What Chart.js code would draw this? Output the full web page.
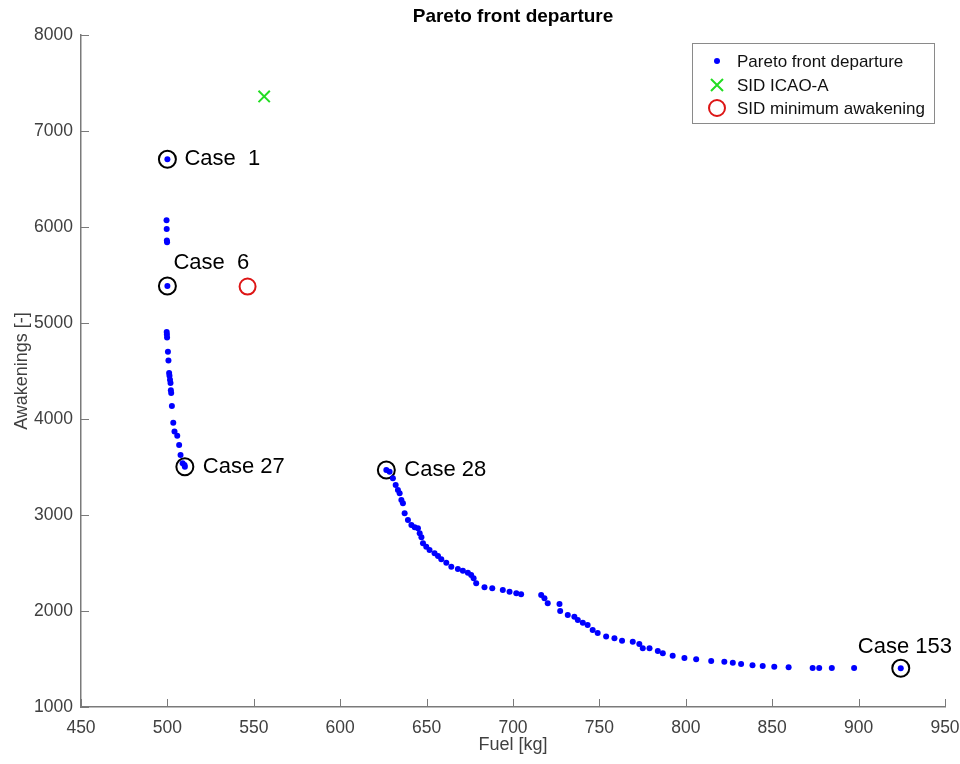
<!DOCTYPE html>
<html>
<head>
<meta charset="utf-8">
<script src="https://cdn.jsdelivr.net/npm/chart.js@4"></script>
<style>
  html, body { margin: 0; padding: 0; background: #fff; }
  #wrap { width: 960px; height: 764px; }
</style>
</head>
<body>
<div id="wrap"><canvas id="chart"></canvas></div>
<script>
// Pareto front values
const fuel = [
  500, 499.5, 499.6, 499.7, 499.8, 500, 499.6, 499.7, 499.8, 500.3, 500.6, 501, 501.2,
  501.5, 501.8, 502, 502.2, 502.6, 503.4, 504.1, 505.7, 506.8, 507.6, 508.8, 509.9, 510.1,
  626.7, 628.6, 630.5, 632.1, 633.4, 634.4, 635.4, 636.3, 637.3, 639.2, 641.2, 643.1,
  645, 646, 647, 647.9, 649.8, 651.7, 654.6, 656.6, 658.5, 661.4, 664.3, 668.1, 671,
  673.9, 675.8, 677.2, 678.7, 683.5, 688, 694.1, 698, 701.9, 704.7, 716.3, 718.2, 720.1,
  726.9, 727.3, 731.7, 735.5, 737.5, 740.4, 743.2, 746.1, 749, 753.9, 758.7, 763.1,
  769.3, 773.1, 775.1, 779, 783.8, 786.7, 792.4, 799.2, 806, 814.7, 822.3, 827.2, 832,
  838.6, 844.5, 851.2, 859.5, 873.4, 877.2, 884.5, 897.4, 924.4,
];
const awakenings = [
  6705, 6070, 5980, 5860, 5840, 5385, 4905, 4880, 4850, 4700, 4610, 4480, 4450,
  4410, 4375, 4300, 4270, 4135, 3960, 3870, 3825, 3730, 3625, 3540, 3521, 3503,
  3469, 3451, 3382, 3312, 3260, 3226, 3156, 3122, 3017, 2948, 2896, 2872,
  2861, 2809, 2767, 2705, 2670, 2635, 2601, 2573, 2538, 2503, 2461, 2437, 2419,
  2398, 2375, 2340, 2288, 2247, 2236, 2219, 2201, 2185, 2174, 2167, 2132, 2080,
  2073, 2000, 1958, 1941, 1906, 1878, 1854, 1802, 1770, 1735, 1715, 1691,
  1680, 1656, 1611, 1611, 1583, 1559, 1535, 1510, 1497, 1479, 1472, 1462, 1448,
  1434, 1427, 1420, 1413, 1406, 1406, 1406, 1406, 1403,
];

const icaoFuel = [556];
const icaoAwake = [7360];

const minAwakeFuel = [546.4];
const minAwakeAwake = [5380];

const caseNames = ["Case  1", "Case  6", "Case 27", "Case 28", "Case 153"];
const caseFuel = [500, 500, 510.1, 626.7, 924.4];
const caseAwake = [6705, 5385, 3503, 3469, 1403];

const xTicks = [450, 500, 550, 600, 650, 700, 750, 800, 850, 900, 950];
const yTicks = [1000, 2000, 3000, 4000, 5000, 6000, 7000, 8000];

const titleText = "Pareto front departure";

function pts(xs, ys) {
  return xs.map((x, i) => ({ x: x, y: ys[i] }));
}

const FONT = "Arial, 'Liberation Sans', sans-serif";
const AXIS = "#7a7a7a";

// label offsets (px) from each case marker
const labelOffset = [[17, 0], [6, -23], [18, 0], [18, 0], [-43, -21]];

const inwardTicks = {
  id: "inwardTicks",
  afterDraw(chart) {
    const { ctx, chartArea: a, scales } = chart;
    ctx.save();
    ctx.strokeStyle = AXIS;
    ctx.lineWidth = 1;
    xTicks.forEach((v) => {
      const px = Math.round(scales.x.getPixelForValue(v)) + 0.5;
      ctx.beginPath();
      ctx.moveTo(px, a.bottom);
      ctx.lineTo(px, a.bottom - 8);
      ctx.stroke();
    });
    yTicks.forEach((v) => {
      const py = Math.round(scales.y.getPixelForValue(v)) + 0.5;
      ctx.beginPath();
      ctx.moveTo(a.left, py);
      ctx.lineTo(a.left + 8, py);
      ctx.stroke();
    });
    // title centred over the axes, like matlab
    ctx.fillStyle = "#000";
    ctx.font = "bold 19px " + FONT;
    ctx.textAlign = "center";
    ctx.textBaseline = "middle";
    ctx.fillText(titleText, (a.left + a.right) / 2, 17);
    ctx.restore();
  },
};

const caseLabels = {
  id: "caseLabels",
  afterDatasetsDraw(chart) {
    const { ctx, scales } = chart;
    ctx.save();
    ctx.font = "22px " + FONT;
    ctx.fillStyle = "#000";
    ctx.textBaseline = "middle";
    ctx.textAlign = "left";
    caseNames.forEach((name, i) => {
      const px = scales.x.getPixelForValue(caseFuel[i]);
      const py = scales.y.getPixelForValue(caseAwake[i]);
      ctx.fillText(name, px + labelOffset[i][0], py + labelOffset[i][1]);
    });
    ctx.restore();
  },
};

const boxLegend = {
  id: "boxLegend",
  afterDraw(chart) {
    const { ctx } = chart;
    const box = { l: 692, t: 43, r: 934, b: 123 };
    const rows = [61, 85, 108];
    const mx = 717;
    ctx.save();
    ctx.fillStyle = "#fff";
    ctx.fillRect(box.l, box.t, box.r - box.l, box.b - box.t);
    ctx.strokeStyle = "#8a8a8a";
    ctx.lineWidth = 1;
    ctx.strokeRect(box.l + 0.5, box.t + 0.5, box.r - box.l, box.b - box.t);

    // blue dot
    ctx.fillStyle = "#0000ff";
    ctx.beginPath();
    ctx.arc(mx, rows[0], 3, 0, Math.PI * 2);
    ctx.fill();
    // green cross
    ctx.strokeStyle = "#22dd22";
    ctx.lineWidth = 2;
    ctx.beginPath();
    ctx.moveTo(mx - 6, rows[1] - 6);
    ctx.lineTo(mx + 6, rows[1] + 6);
    ctx.moveTo(mx + 6, rows[1] - 6);
    ctx.lineTo(mx - 6, rows[1] + 6);
    ctx.stroke();
    // red circle
    ctx.strokeStyle = "#dd1515";
    ctx.beginPath();
    ctx.arc(mx, rows[2], 8, 0, Math.PI * 2);
    ctx.stroke();

    ctx.fillStyle = "#111";
    ctx.font = "17px " + FONT;
    ctx.textBaseline = "middle";
    ctx.textAlign = "left";
    chart.data.datasets.slice(0, 3).forEach((d, i) => {
      ctx.fillText(d.label, 737, rows[i] + 1);
    });
    ctx.restore();
  },
};

new Chart(document.getElementById("chart"), {
  type: "scatter",
  data: {
    datasets: [
      {
        label: "Pareto front departure",
        data: pts(fuel, awakenings),
        pointStyle: "circle",
        pointRadius: 3,
        pointBorderWidth: 0,
        backgroundColor: "#0000ff",
        borderColor: "#0000ff",
      },
      {
        label: "SID ICAO-A",
        data: pts(icaoFuel, icaoAwake),
        pointStyle: "crossRot",
        pointRadius: 8,
        borderWidth: 2,
        borderColor: "#22dd22",
      },
      {
        label: "SID minimum awakening",
        data: pts(minAwakeFuel, minAwakeAwake),
        pointStyle: "circle",
        pointRadius: 8,
        borderWidth: 2,
        borderColor: "#dd1515",
        backgroundColor: "rgba(0,0,0,0)",
      },
      {
        label: "cases",
        data: pts(caseFuel, caseAwake),
        pointStyle: "circle",
        pointRadius: 8.5,
        borderWidth: 2,
        borderColor: "#000",
        backgroundColor: "rgba(0,0,0,0)",
      },
    ],
  },
  options: {
    responsive: true,
    maintainAspectRatio: false,
    animation: false,
    events: [],
    layout: { padding: { left: 0, right: 15, top: 35, bottom: 0 } },
    plugins: {
      legend: { display: false },
      tooltip: { enabled: false },
      title: { display: false },
    },
    scales: {
      x: {
        type: "linear",
        min: 450,
        max: 950,
        afterFit(s) {
          s.height = 57;
          s.paddingLeft = 0;
          s.paddingRight = 0;
        },
        afterBuildTicks(s) { s.ticks = xTicks.map((v) => ({ value: v })); },
        grid: { display: false, drawTicks: false },
        border: { display: true, color: AXIS, width: 1.5 },
        ticks: {
          color: "#404040",
          font: { family: FONT, size: 17.5 },
          padding: 11,
          maxRotation: 0,
          autoSkip: false,
          callback: (v) => String(v),
        },
        title: {
          display: true,
          text: "Fuel [kg]",
          color: "#404040",
          font: { family: FONT, size: 18 },
          padding: { top: 0, bottom: 8 },
        },
      },
      y: {
        type: "linear",
        min: 1000,
        max: 8000,
        afterFit(s) {
          s.width = 81;
          s.paddingTop = 0;
          s.paddingBottom = 0;
        },
        afterBuildTicks(s) { s.ticks = yTicks.map((v) => ({ value: v })); },
        grid: { display: false, drawTicks: false },
        border: { display: true, color: AXIS, width: 1.5 },
        ticks: {
          color: "#404040",
          font: { family: FONT, size: 17.5 },
          padding: 8,
          autoSkip: false,
          callback: (v) => String(v),
        },
        title: {
          display: true,
          text: "Awakenings [-]",
          color: "#404040",
          font: { family: FONT, size: 18 },
          padding: { top: 11, bottom: 0 },
        },
      },
    },
  },
  plugins: [inwardTicks, caseLabels, boxLegend],
});
</script>
</body>
</html>
